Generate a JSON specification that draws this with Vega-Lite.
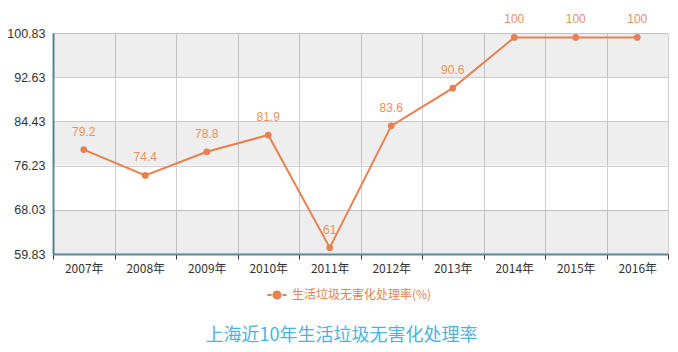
{
  "$schema": "https://vega.github.io/schema/vega-lite/v6.json",
  "width": 615,
  "height": 221,
  "autosize": {"type": "none"},
  "padding": {"left": 53, "top": 33, "right": 10, "bottom": 98},
  "background": "white",
  "config": {
    "font": "Noto Sans CJK SC",
    "view": {"stroke": null}
  },
  "title": {
    "text": "上海近10年生活垃圾无害化处理率",
    "orient": "bottom",
    "anchor": "middle",
    "frame": "group",
    "fontSize": 18,
    "fontWeight": "normal",
    "color": "#4BB3DF",
    "font": "Noto Sans CJK SC",
    "offset": 24,
    "dx": -19
  },
  "datasets": {
    "bands": [
      {"lo": 59.83, "hi": 68.03, "shade": "g"},
      {"lo": 68.03, "hi": 76.23, "shade": "w"},
      {"lo": 76.23, "hi": 84.43, "shade": "g"},
      {"lo": 84.43, "hi": 92.63, "shade": "w"},
      {"lo": 92.63, "hi": 100.83, "shade": "g"}
    ],
    "rates": [
      {"year": "2007年", "rate": 79.2, "series": "生活垃圾无害化处理率(%)"},
      {"year": "2008年", "rate": 74.4, "series": "生活垃圾无害化处理率(%)"},
      {"year": "2009年", "rate": 78.8, "series": "生活垃圾无害化处理率(%)"},
      {"year": "2010年", "rate": 81.9, "series": "生活垃圾无害化处理率(%)"},
      {"year": "2011年", "rate": 61, "series": "生活垃圾无害化处理率(%)"},
      {"year": "2012年", "rate": 83.6, "series": "生活垃圾无害化处理率(%)"},
      {"year": "2013年", "rate": 90.6, "series": "生活垃圾无害化处理率(%)"},
      {"year": "2014年", "rate": 100, "series": "生活垃圾无害化处理率(%)"},
      {"year": "2015年", "rate": 100, "series": "生活垃圾无害化处理率(%)"},
      {"year": "2016年", "rate": 100, "series": "生活垃圾无害化处理率(%)"}
    ]
  },
  "layer": [
    {
      "data": {"name": "bands"},
      "mark": {"type": "rect", "fill": "#000000"},
      "encoding": {
        "y": {
          "field": "lo", "type": "quantitative",
          "scale": {"domain": [59.83, 100.83], "nice": false, "zero": false},
          "axis": {
            "title": null,
            "values": [59.83, 68.03, 76.23, 84.43, 92.63, 100.83],
            "format": ".2f",
            "grid": true, "gridColor": "#D0D0D0", "gridWidth": 1,
            "domainColor": "#5B8A9A", "domainWidth": 2,
            "ticks": false, "labelPadding": 8,
            "labelFontSize": 12.5, "labelColor": "#333333",
            "labelFont": "Liberation Sans"
          }
        },
        "y2": {"field": "hi"},
        "opacity": {"field": "shade", "type": "nominal", "scale": {"domain": ["g", "w"], "range": [0.065, 0]}, "legend": null}
      }
    },
    {
      "data": {"name": "rates"},
      "layer": [
        {
          "mark": {"type": "line", "strokeWidth": 2},
          "encoding": {
            "x": {
              "field": "year", "type": "ordinal", "sort": null,
              "scale": {"paddingInner": 0, "paddingOuter": 0},
              "axis": {
                "title": null, "labelAngle": 0, "tickBand": "extent",
                "grid": true, "gridColor": "#D0D0D0", "gridWidth": 1,
                "domainColor": "#5B8A9A", "domainWidth": 2,
                "tickColor": "#333333", "tickSize": 5,
                "labelFontSize": 12, "labelColor": "#333333", "labelPadding": 4,
                "labelFont": "Noto Sans CJK SC"
              }
            },
            "y": {"field": "rate", "type": "quantitative"},
            "color": {
              "field": "series", "type": "nominal",
              "scale": {"range": ["#E8804F"]},
              "legend": {
                "title": null, "orient": "none", "legendX": 217, "legendY": 255,
                "direction": "horizontal",
                "symbolType": "M-1.6,0L-0.9,0M0.9,0L1.6,0M0.6,0A0.6,0.6,0,1,1,-0.6,0A0.6,0.6,0,1,1,0.6,0Z",
                "symbolSize": 144, "symbolStrokeWidth": 2, "symbolFillColor": "#E8804F",
                "labelColor": "#E8804F", "labelFontSize": 12, "labelFont": "Noto Sans CJK SC",
                "labelOffset": 8
              }
            }
          }
        },
        {
          "mark": {"type": "point", "filled": true, "size": 45, "opacity": 1},
          "encoding": {
            "x": {"field": "year", "type": "ordinal", "sort": null},
            "y": {"field": "rate", "type": "quantitative"},
            "color": {"field": "series", "type": "nominal"}
          }
        },
        {
          "mark": {"type": "text", "dy": -18, "fontSize": 12, "color": "#E8915F", "font": "Liberation Sans"},
          "encoding": {
            "x": {"field": "year", "type": "ordinal", "sort": null},
            "y": {"field": "rate", "type": "quantitative"},
            "text": {"field": "rate", "type": "quantitative"}
          }
        }
      ]
    }
  ]
}
